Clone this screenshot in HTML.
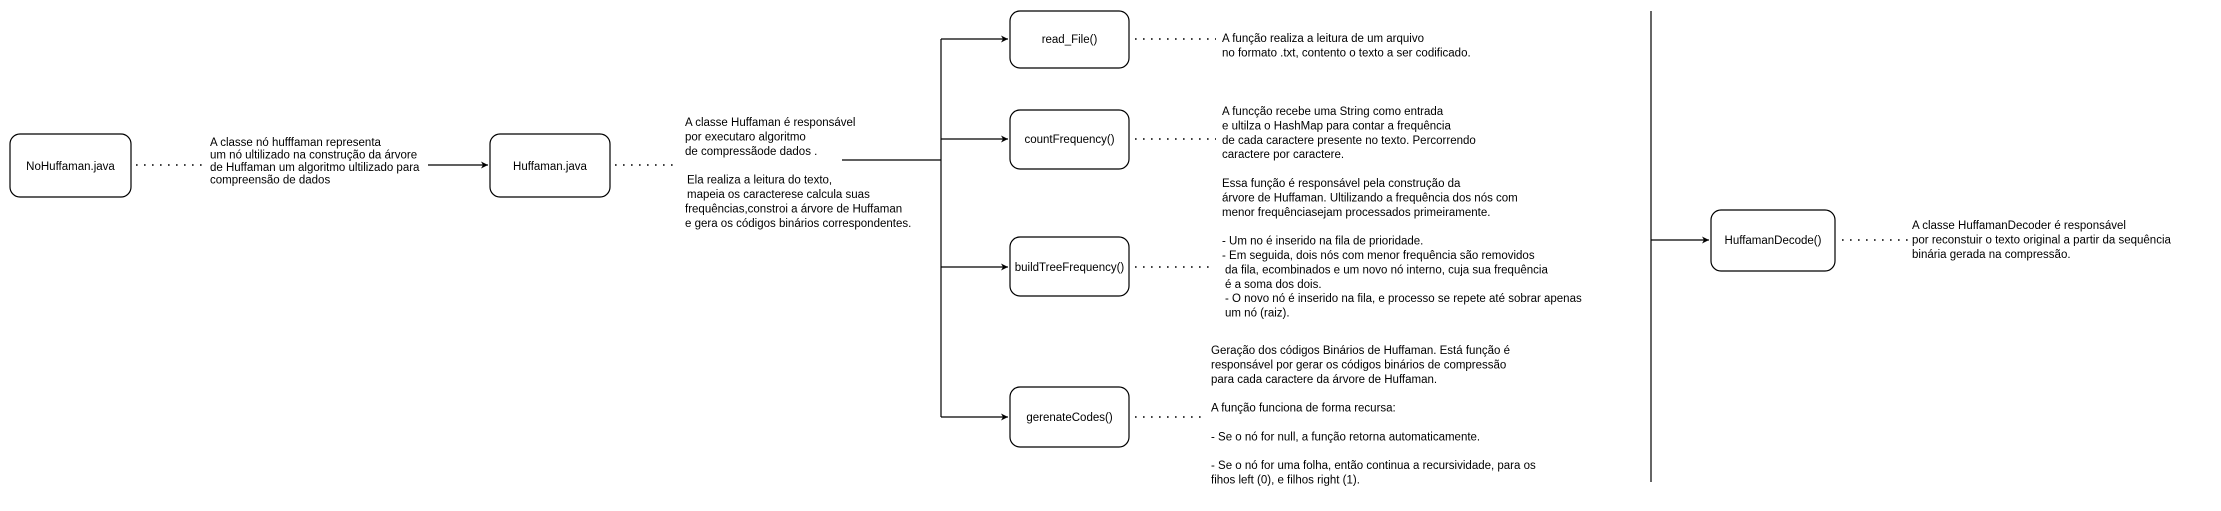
<!DOCTYPE html>
<html><head><meta charset="utf-8"><style>
html,body{margin:0;padding:0;background:#fff;}
svg{display:block;}
text{font-family:"Liberation Sans",Arial,sans-serif;font-size:11.5px;fill:#000;}
.c{text-anchor:middle;}
.box{fill:#fff;stroke:#000;stroke-width:1.2;}
.ln{stroke:#000;stroke-width:1.2;fill:none;}
.dt{stroke:#000;stroke-width:1.6;stroke-dasharray:1.6 6.4;fill:none;}
</style></head><body>
<svg width="2221" height="511" viewBox="0 0 2221 511" xmlns="http://www.w3.org/2000/svg">
<defs><marker id="a" markerWidth="8" markerHeight="8" refX="7" refY="4" orient="auto" markerUnits="userSpaceOnUse"><path d="M0,0.5 L7,4 L0,7.5 L2,4 Z" fill="#000"/></marker></defs>

<!-- NoHuffaman -->
<rect class="box" x="10" y="134" width="121" height="63" rx="10"/>
<text class="c" x="70.5" y="170">NoHuffaman.java</text>
<line class="dt" x1="136" y1="165" x2="204" y2="165"/>
<text x="210" y="146">A classe nó hufffaman representa</text>
<text x="210" y="158.5">um nó ultilizado na construção da árvore</text>
<text x="210" y="171">de Huffaman um algoritmo ultilizado para</text>
<text x="210" y="183.5">compreensão de dados</text>
<line class="ln" x1="428" y1="165" x2="488" y2="165" marker-end="url(#a)"/>

<!-- Huffaman -->
<rect class="box" x="490" y="134" width="120" height="63" rx="10"/>
<text class="c" x="550" y="170">Huffaman.java</text>
<line class="dt" x1="615" y1="165" x2="678" y2="165"/>
<text x="685" y="126">A classe Huffaman é responsável</text>
<text x="685" y="140.4">por executaro algoritmo</text>
<text x="685" y="154.8">de compressãode dados .</text>
<text x="687" y="183.6">Ela realiza a leitura do texto,</text>
<text x="687" y="198">mapeia os caracterese calcula suas</text>
<text x="685" y="212.4">frequências,constroi a árvore de Huffaman</text>
<text x="685" y="226.8">e gera os códigos binários correspondentes.</text>

<!-- tree connectors -->
<line class="ln" x1="842" y1="160" x2="941" y2="160"/>
<line class="ln" x1="941" y1="39" x2="941" y2="417"/>
<line class="ln" x1="941" y1="39" x2="1008" y2="39" marker-end="url(#a)"/>
<line class="ln" x1="941" y1="139" x2="1008" y2="139" marker-end="url(#a)"/>
<line class="ln" x1="941" y1="267" x2="1008" y2="267" marker-end="url(#a)"/>
<line class="ln" x1="941" y1="417" x2="1008" y2="417" marker-end="url(#a)"/>

<!-- read_File -->
<rect class="box" x="1010" y="11" width="119" height="57" rx="10"/>
<text class="c" x="1069.5" y="43">read_File()</text>
<line class="dt" x1="1135" y1="39" x2="1216" y2="39"/>
<text x="1222" y="42">A função realiza a leitura de um arquivo</text>
<text x="1222" y="56.4">no formato .txt, contento o texto a ser codificado.</text>

<!-- countFrequency -->
<rect class="box" x="1010" y="110" width="119" height="59" rx="10"/>
<text class="c" x="1069.5" y="143">countFrequency()</text>
<line class="dt" x1="1135" y1="139" x2="1216" y2="139"/>
<text x="1222" y="115">A funcção recebe uma String como entrada</text>
<text x="1222" y="129.4">e ultilza o HashMap para contar a frequência</text>
<text x="1222" y="143.8">de cada caractere presente no texto. Percorrendo</text>
<text x="1222" y="158.2">caractere por caractere.</text>

<!-- buildTreeFrequency -->
<text x="1222" y="187">Essa função é responsável pela construção da</text>
<text x="1222" y="201.4">árvore de Huffaman. Ultilizando a frequência dos nós com</text>
<text x="1222" y="215.8">menor frequênciasejam processados primeiramente.</text>
<text x="1222" y="244.6">- Um no é inserido na fila de prioridade.</text>
<text x="1222" y="259">- Em seguida, dois nós com menor frequência são removidos</text>
<text x="1225" y="273.4">da fila, ecombinados e um novo nó interno, cuja sua frequência</text>
<text x="1225" y="287.8">é a soma dos dois.</text>
<text x="1225" y="302.2">-  O novo nó é inserido na fila, e processo se repete até sobrar apenas</text>
<text x="1225" y="316.6">um nó (raiz).</text>
<rect class="box" x="1010" y="237" width="119" height="59" rx="10"/>
<text class="c" x="1069.5" y="271">buildTreeFrequency()</text>
<line class="dt" x1="1135" y1="267" x2="1212" y2="267"/>

<!-- gerenateCodes -->
<rect class="box" x="1010" y="387" width="119" height="60" rx="10"/>
<text class="c" x="1069.5" y="421">gerenateCodes()</text>
<line class="dt" x1="1135" y1="417" x2="1207" y2="417"/>
<text x="1211" y="354">Geração dos códigos Binários de Huffaman. Está função é</text>
<text x="1211" y="368.4">responsável  por gerar os códigos binários de compressão</text>
<text x="1211" y="382.8">para cada caractere da árvore de Huffaman.</text>
<text x="1211" y="411.6">A função funciona de forma recursa:</text>
<text x="1211" y="440.4">- Se o nó for null, a função retorna automaticamente.</text>
<text x="1211" y="469.2">- Se o nó for uma folha, então continua a recursividade, para os</text>
<text x="1211" y="483.6">fihos left (0), e filhos right (1).</text>

<!-- Decoder -->
<line class="ln" x1="1651" y1="11" x2="1651" y2="482"/>
<line class="ln" x1="1651" y1="240" x2="1709" y2="240" marker-end="url(#a)"/>
<rect class="box" x="1711" y="210" width="124" height="61" rx="10"/>
<text class="c" x="1773" y="244">HuffamanDecode()</text>
<line class="dt" x1="1842" y1="240" x2="1908" y2="240"/>
<text x="1912" y="229">A classe HuffamanDecoder é responsável</text>
<text x="1912" y="243.4">por reconstuir o texto original a partir da sequência</text>
<text x="1912" y="257.8">binária gerada na compressão.</text>
</svg>
</body></html>
